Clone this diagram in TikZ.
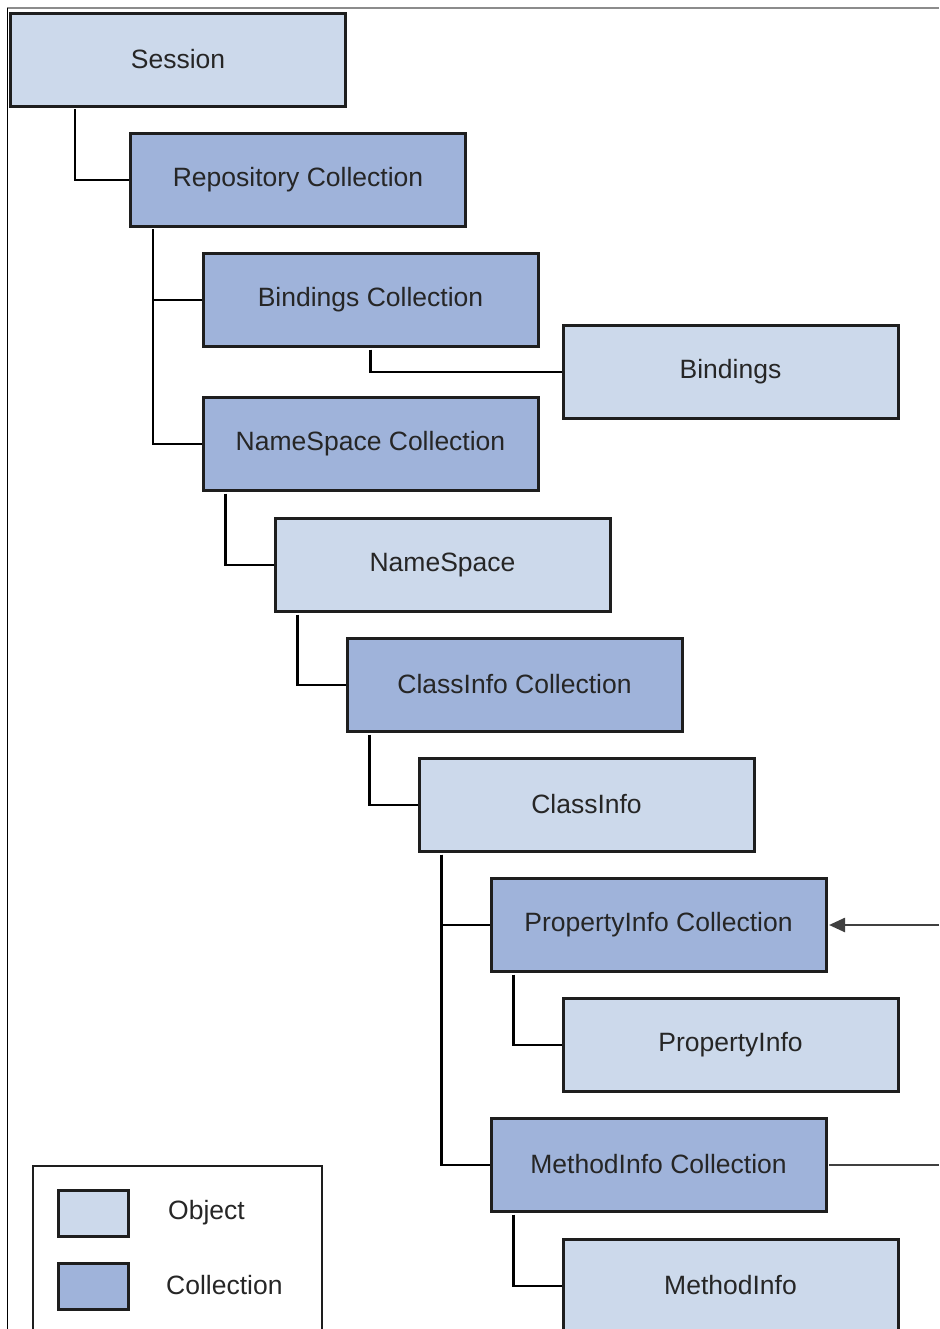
\documentclass[tikz,border=0pt]{standalone}
\usepackage{fontspec}
\setmainfont{Liberation Sans}
\usetikzlibrary{calc,arrows.meta}
\definecolor{objfill}{HTML}{CCD9EB}
\definecolor{colfill}{HTML}{9FB3DA}
\definecolor{boxline}{HTML}{1E1E1E}
\definecolor{txt}{HTML}{262626}
\tikzset{
  basebox/.style={draw=boxline, line width=3pt, rectangle, minimum width=335pt, minimum height=93pt, inner sep=0pt, text=txt, font=\fontsize{26.5}{30}\selectfont},
  objbox/.style={basebox, fill=objfill},
  colbox/.style={basebox, fill=colfill},
  swatch/.style={draw=boxline, line width=3pt, rectangle, minimum width=70pt, minimum height=46pt, inner sep=0pt},
  legtext/.style={text=txt, font=\fontsize{26.5}{30}\selectfont, anchor=west, inner sep=0pt},
  conn/.style={line width=2.8pt, draw=black},
  ext/.style={line width=2.5pt, draw=black!75},
}
\newcommand{\lbl}[1]{\raisebox{2pt}{#1}}
\begin{document}
\begin{tikzpicture}[x=1pt,y=-1pt]
\useasboundingbox (0,0) rectangle (939,1329);
\clip (0,0) rectangle (939,1329);
\draw[line width=1.5pt, draw=black!45] (7,8) -- (939,8);
\draw[line width=1pt, draw=black] (7,8) -- (7,1329);

\node[objbox] (ses) at (178,60) {\lbl{Session}};
\node[colbox] (rep) at (298,180) {\lbl{Repository Collection}};
\node[colbox] (bcol) at (370.5,300) {\lbl{Bindings Collection}};
\node[objbox] (bind) at (730.5,372) {\lbl{Bindings}};
\node[colbox] (nscol) at (370.5,444) {\lbl{NameSpace Collection}};
\node[objbox] (ns) at (442.5,565) {\lbl{NameSpace}};
\node[colbox] (cicol) at (514.5,685) {\lbl{ClassInfo Collection}};
\node[objbox] (ci) at (586.5,805) {\lbl{ClassInfo}};
\node[colbox] (picol) at (658.5,925) {\lbl{PropertyInfo Collection}};
\node[objbox] (pi) at (730.5,1045) {\lbl{PropertyInfo}};
\node[colbox] (micol) at (658.5,1165) {\lbl{MethodInfo Collection}};
\node[objbox] (mi) at (730.5,1286) {\lbl{MethodInfo}};

\draw[conn] ($(ses.south west)+(66,1.5)$) |- (rep.west);
\draw[conn] ($(rep.south west)+(24,1.5)$) |- (bcol.west);
\draw[conn] ($(rep.south west)+(24,1.5)$) |- (nscol.west);
\draw[conn] ($(bcol.south)+(0,1.5)$) |- (bind.west);
\draw[conn] ($(nscol.south west)+(24,1.5)$) |- (ns.west);
\draw[conn] ($(ns.south west)+(24,1.5)$) |- (cicol.west);
\draw[conn] ($(cicol.south west)+(24,1.5)$) |- (ci.west);
\draw[conn] ($(ci.south west)+(24,1.5)$) |- (picol.west);
\draw[conn] ($(ci.south west)+(24,1.5)$) |- (micol.west);
\draw[conn] ($(picol.south west)+(24,1.5)$) |- (pi.west);
\draw[conn] ($(micol.south west)+(24,1.5)$) |- (mi.west);

\coordinate (pin) at (939,925);
\coordinate (mout) at (939,1165);
\draw[ext, -{Triangle[length=16pt,width=14pt]}] (pin) -- ($(picol.east)+(1.5,0)$);
\draw[ext] ($(micol.east)+(1.5,0)$) -- (mout);

\draw[line width=2pt, draw=boxline] (33,1340) -- (33,1166) -- (322,1166) -- (322,1340);
\node[swatch, fill=objfill] (lobj) at (93.5,1213.5) {};
\node[swatch, fill=colfill] (lcol) at (93.5,1286) {};
\node[legtext] (tobj) at (168,1213) {Object};
\node[legtext] (tcol) at (166,1285) {Collection};
\end{tikzpicture}
\end{document}
